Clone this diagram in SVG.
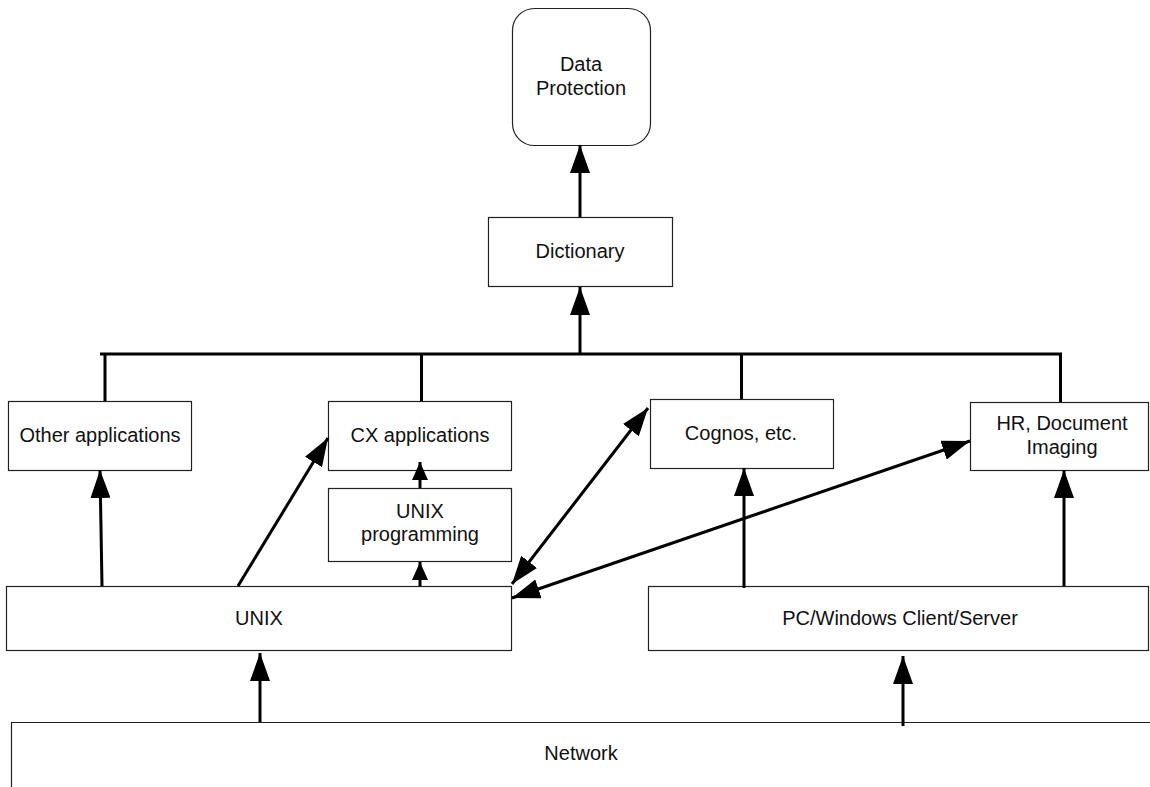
<svg xmlns="http://www.w3.org/2000/svg" width="1150" height="787" viewBox="0 0 1150 787">
<style>
.box{fill:#fff;stroke:#222;stroke-width:1.2}
.lbl{font-family:"Liberation Sans",Arial,sans-serif;font-size:20px;fill:#111;text-anchor:middle}
.c{fill:none;stroke:#000;stroke-width:3}
</style>
<defs>
<marker id="big" markerUnits="userSpaceOnUse" markerWidth="28" markerHeight="20" viewBox="0 0 28 20" refX="28" refY="10" orient="auto-start-reverse">
<path d="M0,0 L28,10 L0,20 z" fill="#000"/>
</marker>
<marker id="small" markerUnits="userSpaceOnUse" markerWidth="18" markerHeight="16" viewBox="0 0 18 16" refX="18" refY="8" orient="auto-start-reverse">
<path d="M0,0 L18,8 L0,16 z" fill="#000"/>
</marker>
</defs>
<rect width="1150" height="787" fill="#fff"/>

<g id="network">
<path d="M1150,722.5 H11.5 V787" class="box" fill="none"/>
<text class="lbl" x="581" y="760">Network</text>
</g>
<g id="data-protection">
<rect class="box" x="512.5" y="8.5" width="138" height="137" rx="22"/>
<text class="lbl" x="581" y="71">Data</text>
<text class="lbl" x="581" y="95">Protection</text>
</g>
<g id="dictionary">
<rect class="box" x="488.5" y="217.5" width="184" height="69"/>
<text class="lbl" x="580" y="258">Dictionary</text>
</g>
<g id="other-applications">
<rect class="box" x="8.5" y="401.5" width="183" height="69"/>
<text class="lbl" x="100" y="442">Other applications</text>
</g>
<g id="cx-applications">
<rect class="box" x="328.5" y="401.5" width="183" height="69"/>
<text class="lbl" x="420" y="442">CX applications</text>
</g>
<g id="unix-programming">
<rect class="box" x="328.5" y="488.5" width="183" height="73"/>
<text class="lbl" x="420" y="518">UNIX</text>
<text class="lbl" x="420" y="541">programming</text>
</g>
<g id="cognos">
<rect class="box" x="650.5" y="399.5" width="183" height="69"/>
<text class="lbl" x="741" y="440">Cognos, etc.</text>
</g>
<g id="hr-document-imaging">
<rect class="box" x="970.5" y="402.5" width="178" height="68"/>
<text class="lbl" x="1062" y="430">HR, Document</text>
<text class="lbl" x="1062" y="454">Imaging</text>
</g>
<g id="unix">
<rect class="box" x="6.5" y="586.5" width="505" height="64"/>
<text class="lbl" x="259" y="625">UNIX</text>
</g>
<g id="pc-windows">
<rect class="box" x="648.5" y="586.5" width="500" height="64"/>
<text class="lbl" x="900" y="625">PC/Windows Client/Server</text>
</g>

<g id="connectors">
<path class="c" d="M100,354 H1062"/>
<path class="c" d="M105,354 V401"/>
<path class="c" d="M421.5,354 V401"/>
<path class="c" d="M741.5,354 V399"/>
<path class="c" d="M1060.5,354 V402"/>
<path class="c" d="M580,354 V287" marker-end="url(#big)"/>
<path class="c" d="M580,217 V145" marker-end="url(#big)"/>
<path class="c" d="M102,586 L100,470" marker-end="url(#big)"/>
<path class="c" d="M238,586 L328,438" marker-end="url(#big)"/>
<path class="c" d="M420,586 V562" marker-end="url(#small)"/>
<path class="c" d="M420,488 V462" marker-end="url(#small)"/>
<path class="c" d="M512,584 L648,408" marker-start="url(#big)" marker-end="url(#big)"/>
<path class="c" d="M512,598 L970,441" marker-start="url(#big)" marker-end="url(#big)"/>
<path class="c" d="M744,588 V468" marker-end="url(#big)"/>
<path class="c" d="M1064,586 V470" marker-end="url(#big)"/>
<path class="c" d="M260,722 V653" marker-end="url(#big)"/>
<path class="c" d="M903,726 V656" marker-end="url(#big)"/>
</g>
</svg>
